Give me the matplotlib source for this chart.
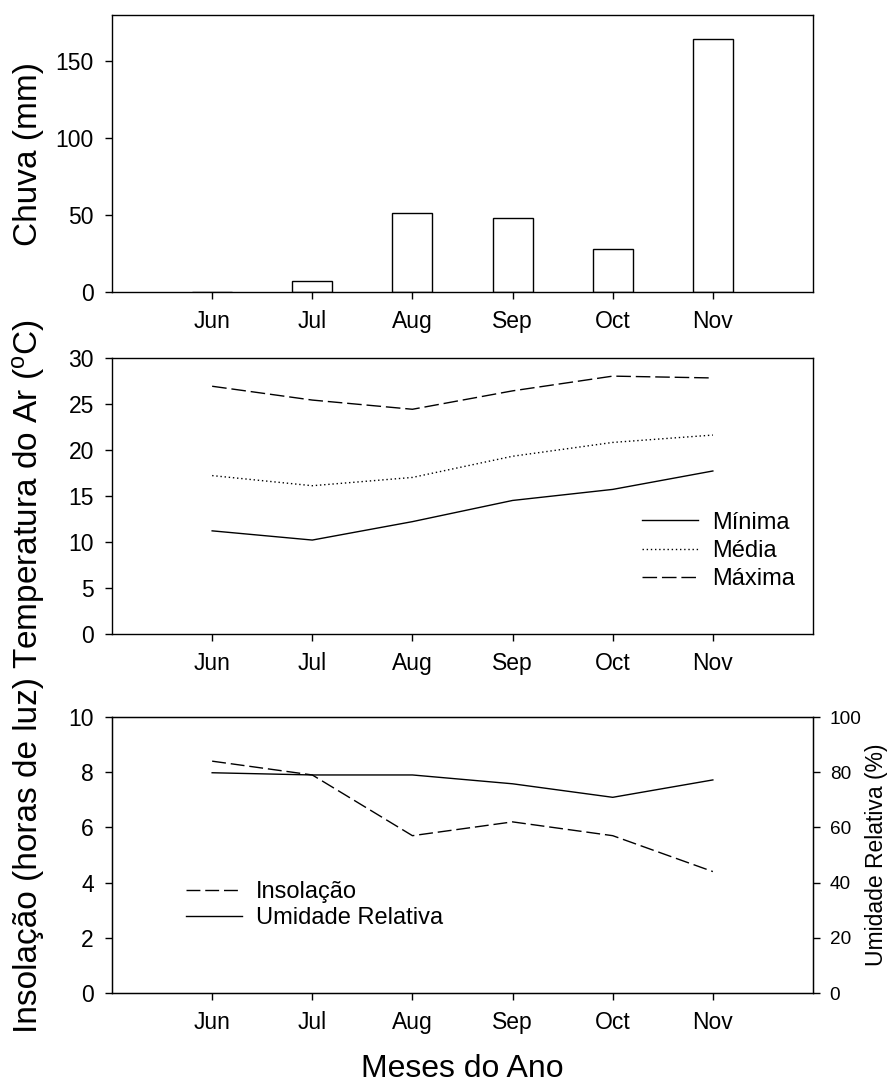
import matplotlib
matplotlib.use("Agg")
import matplotlib.pyplot as plt
from matplotlib.lines import Line2D

plt.rcParams["font.family"] = ["Liberation Sans", "DejaVu Sans"]
plt.rcParams["mathtext.default"] = "regular"

# Data
months = ["Jun", "Jul", "Aug", "Sep", "Oct", "Nov"]
chuva = [0.0, 7.4, 51.6, 47.9, 28.1, 164.2]
temp_min = [11.2, 10.2, 12.2, 14.5, 15.7, 17.7]
temp_med = [17.2, 16.1, 17.0, 19.3, 20.8, 21.6]
temp_max = [26.9, 25.4, 24.4, 26.4, 28.0, 27.8]
insolacao = [8.4, 7.9, 5.7, 6.2, 5.7, 4.4]
umidade = [79.8, 79.0, 79.0, 75.8, 70.9, 77.2]

x = list(range(1, len(months) + 1))

W, H = 889, 1086
fig = plt.figure(figsize=(W / 100, H / 100), dpi=100)

left = 112 / W
width = (813 - 112) / W


def make_ax(top_px, bottom_px):
    ax = fig.add_axes([left, 1 - bottom_px / H, width, (bottom_px - top_px) / H])
    ax.set_xlim(0, 7)
    ax.set_xticks(x)
    ax.set_xticklabels(months)
    ax.tick_params(direction="out", length=5, width=1, labelsize=16.5, pad=8)
    for s in ax.spines.values():
        s.set_linewidth(1.0)
    return ax


lab_fs = 24
leg_fs = 17

# Panel 1 - rainfall
ax1 = make_ax(15, 292)
ax1.bar(x, chuva, width=0.4, color="white", edgecolor="black", linewidth=1.0)
ax1.set_ylim(0, 180)
ax1.set_yticks([0, 50, 100, 150])

# Panel 2 - air temperature
ax2 = make_ax(357.7, 634)
ax2.plot(x, temp_min, color="black", lw=1.0, label="Mínima")
ax2.plot(x, temp_med, color="black", lw=1.0, dashes=(1, 2), label="Média")
ax2.plot(x, temp_max, color="black", lw=1.0, dashes=(10.5, 3.5), label="Máxima")
ax2.set_ylim(0, 30)
ax2.set_yticks(range(0, 31, 5))
ax2.legend(loc="center left", bbox_to_anchor=(0.7557, 0.30), frameon=False,
           fontsize=leg_fs, handlelength=2.4, handletextpad=0.58,
           labelspacing=0.27, borderpad=0, borderaxespad=0)

# Panel 3 - sunshine hours and relative humidity
ax3 = make_ax(717, 993)
ax3.plot(x, insolacao, color="black", lw=1.0, dashes=(10, 3.5))
ax3.set_ylim(0, 10)
ax3.set_yticks(range(0, 11, 2))

ax3r = ax3.twinx()
ax3r.plot(x, umidade, color="black", lw=1.0)
ax3r.set_ylim(0, 100)
ax3r.set_yticks(range(0, 101, 20))
ax3r.tick_params(direction="out", length=5, width=1, labelsize=13.7, pad=7)

handles = [
    Line2D([], [], color="black", lw=1.0, dashes=(10, 3.5)),
    Line2D([], [], color="black", lw=1.0),
]
ax3.legend(handles, ["Insolação", "Umidade Relativa"], loc="center left",
           bbox_to_anchor=(0.105, 0.318), frameon=False, fontsize=leg_fs,
           handlelength=2.4, handletextpad=0.58, labelspacing=0.18,
           borderpad=0, borderaxespad=0)

# Axis titles
fig.text(29 / W, 1 - 154 / H, "Chuva (mm)", rotation=90, ha="center",
         va="center", fontsize=lab_fs)
fig.text(29 / W, 1 - 494 / H, "Temperatura do Ar ($^o$C)", rotation=90,
         ha="center", va="center", fontsize=lab_fs)
fig.text(29 / W, 1 - 855 / H, "Insolação (horas de luz)", rotation=90,
         ha="center", va="center", fontsize=lab_fs)
fig.text(876 / W, 1 - 855 / H, "Umidade Relativa (%)", rotation=90,
         ha="center", va="center", fontsize=16.5)
fig.text(462 / W, 2 / H, "Meses do Ano", ha="center", va="bottom",
         fontsize=23)

fig.savefig("out.png", dpi=100)
